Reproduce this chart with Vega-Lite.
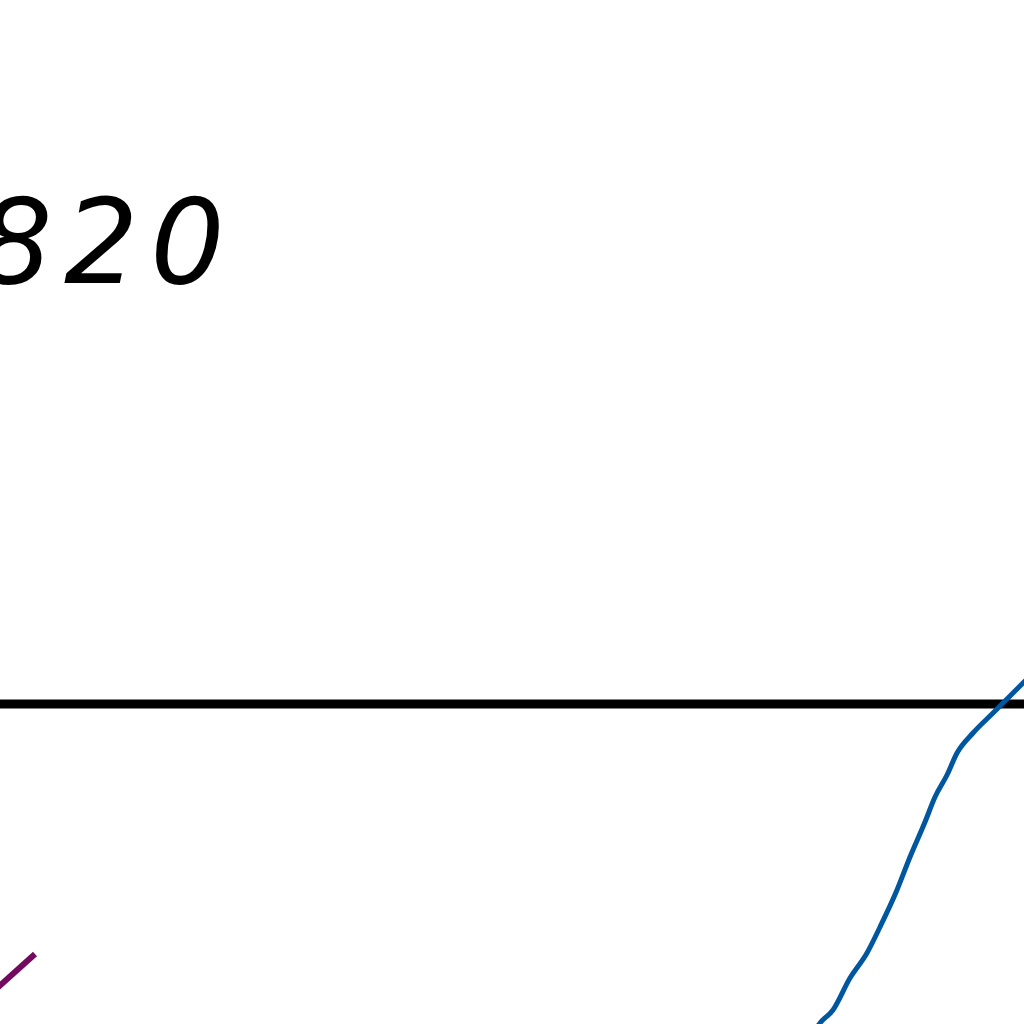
{
  "$schema": "https://vega.github.io/schema/vega-lite/v6.json",
  "width": 1024,
  "height": 1024,
  "padding": 0,
  "autosize": {"type": "none"},
  "background": "white",
  "config": {"view": {"stroke": null}},
  "datasets": {
    "label": [{"x": -22, "y": 283, "text": "8\u200a2\u200a0"}],
    "rule": [{"y": 704}],
    "blue": [
      {"x": 815, "y": 1030}, {"x": 820, "y": 1023}, {"x": 833, "y": 1010}, {"x": 850, "y": 978},
      {"x": 867, "y": 953}, {"x": 880, "y": 927}, {"x": 897, "y": 890}, {"x": 910, "y": 857},
      {"x": 925, "y": 822}, {"x": 935, "y": 797}, {"x": 947, "y": 775}, {"x": 957, "y": 753},
      {"x": 973, "y": 733}, {"x": 993, "y": 713}, {"x": 1013, "y": 693}, {"x": 1024, "y": 682},
      {"x": 1030, "y": 676}
    ],
    "purple": [{"x": -5, "y": 990}, {"x": 35, "y": 954}]
  },
  "layer": [
    {
      "data": {"name": "rule"},
      "mark": {"type": "rule", "color": "black", "strokeWidth": 9},
      "encoding": {
        "y": {"field": "y", "type": "quantitative", "scale": {"domain": [0, 1024], "reverse": true, "nice": false, "zero": false}, "axis": null}
      }
    },
    {
      "data": {"name": "blue"},
      "mark": {"type": "line", "color": "#00569F", "strokeWidth": 5, "interpolate": "monotone", "clip": true},
      "encoding": {
        "x": {"field": "x", "type": "quantitative", "scale": {"domain": [0, 1024], "nice": false, "zero": false}, "axis": null},
        "y": {"field": "y", "type": "quantitative", "scale": {"domain": [0, 1024], "reverse": true, "nice": false, "zero": false}, "axis": null}
      }
    },
    {
      "data": {"name": "purple"},
      "mark": {"type": "line", "color": "#730A5E", "strokeWidth": 6, "clip": true},
      "encoding": {
        "x": {"field": "x", "type": "quantitative", "scale": {"domain": [0, 1024], "nice": false, "zero": false}, "axis": null},
        "y": {"field": "y", "type": "quantitative", "scale": {"domain": [0, 1024], "reverse": true, "nice": false, "zero": false}, "axis": null}
      }
    },
    {
      "data": {"name": "label"},
      "mark": {"type": "text", "font": "DejaVu Sans", "fontStyle": "italic", "fontSize": 117, "align": "left", "baseline": "alphabetic", "color": "black"},
      "encoding": {
        "x": {"field": "x", "type": "quantitative", "scale": {"domain": [0, 1024], "nice": false, "zero": false}, "axis": null},
        "y": {"field": "y", "type": "quantitative", "scale": {"domain": [0, 1024], "reverse": true, "nice": false, "zero": false}, "axis": null},
        "text": {"field": "text"}
      }
    }
  ]
}
